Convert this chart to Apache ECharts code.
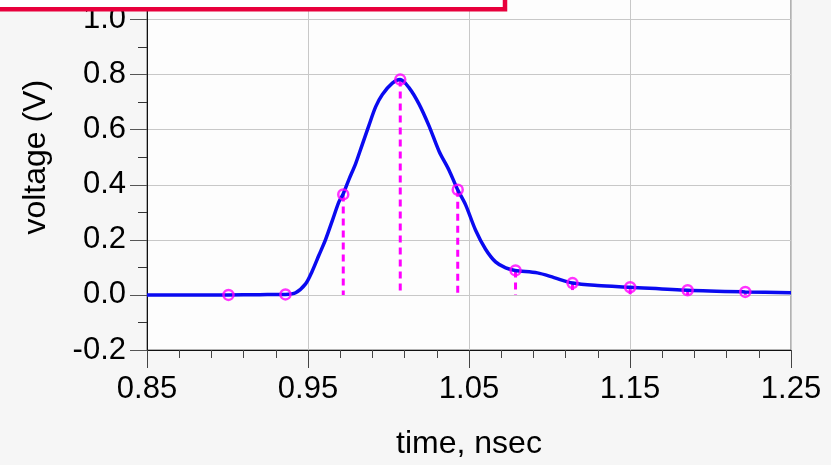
<!DOCTYPE html>
<html>
<head>
<meta charset="utf-8">
<script src="https://cdn.jsdelivr.net/npm/echarts@6/dist/echarts.min.js"></script>
<style>
html,body{margin:0;padding:0;background:#f6f6f6;overflow:hidden;width:831px;height:465px;}
#c{position:absolute;left:0;top:-51px;width:831px;height:516px;}
</style>
</head>
<body>
<div id="c"></div>
<script>
// Curve samples
var curveT = [0.85, 0.87, 0.90, 0.92, 0.936, 0.9423, 0.9485, 0.9526, 0.9567, 0.9609, 0.9651, 0.9692, 0.9717, 0.9754, 0.9796, 0.9837, 0.9878, 0.9920, 0.9962, 1.0024, 1.0072, 1.0127, 1.0189, 1.0251, 1.0314, 1.0376, 1.0428, 1.0479, 1.0541, 1.0603, 1.0665, 1.0728, 1.0786, 1.0925, 1.1028, 1.1143, 1.1298, 1.1501, 1.1858, 1.2216, 1.25];
var curveV = [0.0, 0.0, 0.0, 0.001, 0.002, 0.008, 0.040, 0.086, 0.143, 0.201, 0.270, 0.338, 0.365, 0.419, 0.477, 0.546, 0.615, 0.683, 0.728, 0.769, 0.782, 0.753, 0.694, 0.615, 0.522, 0.453, 0.384, 0.327, 0.235, 0.166, 0.120, 0.098, 0.089, 0.080, 0.063, 0.043, 0.034, 0.028, 0.017, 0.011, 0.008];
// Marker samples
var markT = [0.9006, 0.936, 0.9719, 1.0073, 1.043, 1.0789, 1.1143, 1.1501, 1.1858, 1.2216];
var markV = [0.0, 0.002, 0.365, 0.782, 0.382, 0.089, 0.043, 0.028, 0.017, 0.011];
// Axis settings
var xMin = 0.85, xMax = 1.25, xStep = 0.1;
var yMin = -0.2, yMax = 1.2, yStep = 0.2;
var xName = 'time, nsec';
var yName = 'voltage (V)';

var curveData = curveT.map(function (t, i) { return [t, curveV[i]]; });
var markData = markT.map(function (t, i) { return [t, markV[i]]; });

var font = 'Liberation Sans, Arial, sans-serif';
var chart = echarts.init(document.getElementById('c'), null, {renderer: 'canvas', width: 831, height: 516});
chart.setOption({
  backgroundColor: '#f6f6f6',
  animation: false,
  grid: {
    left: 147, right: 40, top: 0, bottom: 108,
    show: true, backgroundColor: '#fdfdfd', borderColor: '#666', borderWidth: 1,
    containLabel: false
  },
  xAxis: {
    type: 'value', min: xMin, max: xMax, interval: xStep,
    name: xName, nameLocation: 'middle', nameGap: 78,
    nameTextStyle: {fontFamily: font, fontSize: 32, color: '#000'},
    axisLine: {show: true, onZero: false, lineStyle: {color: '#111', width: 1}},
    axisTick: {show: true, length: 18, lineStyle: {color: '#444'}},
    minorTick: {show: true, splitNumber: 5, length: 8, lineStyle: {color: '#444'}},
    axisLabel: {fontFamily: font, fontSize: 31, color: '#000', margin: 24,
      formatter: function (v) { return v.toFixed(2); }},
    splitLine: {show: true, lineStyle: {color: '#c8c8c8', width: 1}}
  },
  yAxis: {
    type: 'value', min: yMin, max: yMax, interval: yStep,
    name: yName, nameLocation: 'middle', nameGap: 95,
    nameTextStyle: {fontFamily: font, fontSize: 32, color: '#000'},
    axisLine: {show: true, onZero: false, lineStyle: {color: '#111', width: 1}},
    axisTick: {show: true, length: 17, lineStyle: {color: '#555'}},
    minorTick: {show: true, splitNumber: 2, length: 9, lineStyle: {color: '#333'}},
    axisLabel: {fontFamily: font, fontSize: 31, color: '#000', margin: 21,
      formatter: function (v) { return v.toFixed(1); }},
    splitLine: {show: true, lineStyle: {color: '#c8c8c8', width: 1}}
  },
  graphic: [{
    type: 'rect', z: 100,
    shape: {x: -10, y: -10, width: 515, height: 70.3},
    style: {fill: '#ffffff', stroke: '#e8003c', lineWidth: 4.5}
  }],
  series: [
    {
      type: 'custom', z: 2,
      renderItem: function (params, api) {
        var p1 = api.coord([api.value(0), api.value(1)]);
        var p0 = api.coord([api.value(0), 0]);
        return {type: 'line', shape: {x1: p1[0], y1: p1[1], x2: p0[0], y2: p0[1]},
          style: {stroke: '#ff00ff', lineWidth: 3, lineDash: [7, 5]}};
      },
      data: markData
    },
    {
      type: 'line', z: 3, data: curveData, smooth: 0.3, showSymbol: false,
      lineStyle: {color: '#0a0af0', width: 3.5}
    },
    {
      type: 'scatter', z: 4, data: markData, symbol: 'circle', symbolSize: 10,
      itemStyle: {color: 'rgba(0,0,0,0)', borderColor: '#ff00ff', borderWidth: 2.5}
    }
  ]
});
</script>
</body>
</html>
